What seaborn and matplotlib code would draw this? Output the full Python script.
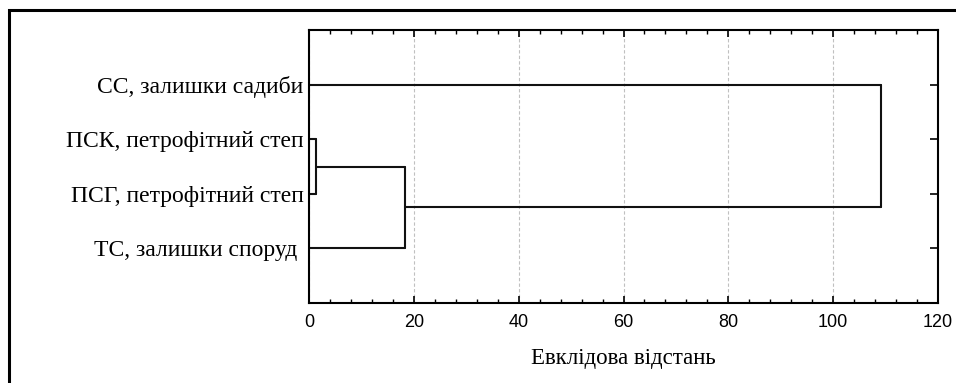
import matplotlib
matplotlib.use('agg')
import matplotlib.pyplot as plt
from matplotlib.patches import Rectangle
from matplotlib.ticker import MultipleLocator
import pandas as pd
import seaborn as sns

# leaves from top to bottom
labels = ['СС, залишки садиби', 'ПСК, петрофітний степ', 'ПСГ, петрофітний степ', 'ТС, залишки споруд ']
# merges: (node a, node b, distance); new nodes get ids 4, 5, ...
merge_a = [1, 4, 0]
merge_b = [2, 3, 5]
merge_dist = [1.3, 18.4, 109.2]
xlabel = 'Евклідова відстань'
xticks = [0, 20, 40, 60, 80, 100, 120]

def segments():
    ypos = {i: i + 1 for i in range(len(labels))}
    xpos = {i: 0.0 for i in range(len(labels))}
    rows = []
    seg = 0
    for k, (a, b, d) in enumerate(zip(merge_a, merge_b, merge_dist)):
        node = len(labels) + k
        for c in (a, b):
            rows.append((seg, xpos[c], ypos[c]))
            rows.append((seg, d, ypos[c]))
            seg += 1
        rows.append((seg, d, ypos[a]))
        rows.append((seg, d, ypos[b]))
        seg += 1
        ypos[node] = (ypos[a] + ypos[b]) / 2
        xpos[node] = d
    return pd.DataFrame(rows, columns=['seg', 'x', 'y'])

sns.set_style('white')
plt.rcParams['font.family'] = ['Liberation Serif', 'DejaVu Serif']
plt.rcParams['text.color'] = 'black'
plt.rcParams['axes.labelcolor'] = 'black'
plt.rcParams['xtick.color'] = 'black'
plt.rcParams['ytick.color'] = 'black'

fig = plt.figure(figsize=(9.56, 3.83), dpi=100)
ax = fig.add_axes([309 / 956, 1 - 303 / 383, (938 - 309) / 956, (303 - 30) / 383])

data = segments()
sns.lineplot(data=data, x='x', y='y', units='seg', estimator=None, sort=False,
             color='#111111', linewidth=1.5, ax=ax, legend=False)

ax.set_xlim(0, 120)
ax.set_ylim(len(labels) + 1, 0)
ax.xaxis.set_major_locator(MultipleLocator(20))
ax.xaxis.set_minor_locator(MultipleLocator(4))
ax.set_xticks(xticks)
ax.set_xticklabels([str(t) for t in xticks], fontfamily='Liberation Sans', fontsize=13)
ax.set_yticks(range(1, len(labels) + 1))
ax.set_yticklabels(labels, fontsize=17)
ax.tick_params(axis='x', which='major', direction='in', top=True, bottom=True, length=5, width=1.2, pad=8,
               color='black', labelcolor='black')
ax.tick_params(axis='x', which='minor', direction='in', top=True, bottom=True, length=3, width=1.0, color='black')
ax.tick_params(axis='y', left=False, right=True, labelleft=True, direction='in', length=6, width=1.2, pad=4,
               color='black', labelcolor='black')
ax.grid(axis='x', which='major', linestyle=(0, (3, 2)), color='#c0c0c0', linewidth=0.8)
for s in ax.spines.values():
    s.set_color('black')
    s.set_linewidth(1.5)
ax.set_xlabel(xlabel, fontsize=16.5, labelpad=12, color='black')
ax.set_ylabel('')

fig.add_artist(Rectangle((9 / 956, -0.1), 1.2, 1.1 - 9.5 / 383, transform=fig.transFigure,
                         fill=False, edgecolor='black', linewidth=2.2))

plt.savefig('out.png', dpi=100)
plt.close()
